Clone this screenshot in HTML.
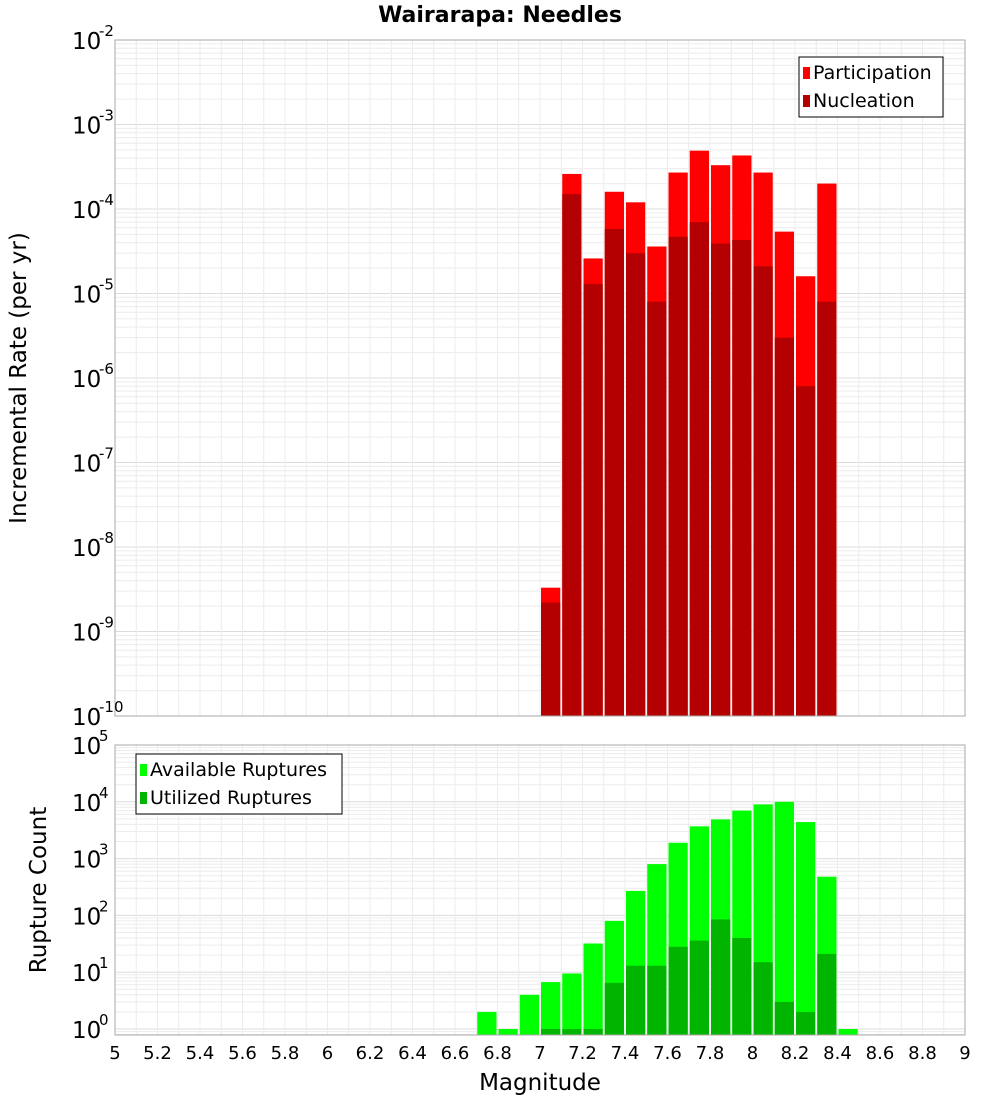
<!DOCTYPE html>
<html><head><meta charset="utf-8"><style>
body{margin:0;background:#fff;font-family:"Liberation Sans","DejaVu Sans",sans-serif}
svg text{font-family:"DejaVu Sans","Liberation Sans",sans-serif}
</style></head><body>
<svg id="c" width="1000" height="1100" viewBox="0 0 1000 1100"></svg>
<script>
const topBins=[7.0,7.1,7.2,7.3,7.4,7.5,7.6,7.7,7.8,7.9,8.0,8.1,8.2,8.3];
const participation=[3.3e-9,2.6e-4,2.6e-5,1.6e-4,1.2e-4,3.6e-5,2.7e-4,4.9e-4,3.3e-4,4.3e-4,2.7e-4,5.4e-5,1.6e-5,2.0e-4];
const nucleation=[2.2e-9,1.5e-4,1.3e-5,5.8e-5,3.0e-5,8e-6,4.7e-5,7e-5,3.9e-5,4.3e-5,2.1e-5,3e-6,8e-7,8e-6];
const botBins=[6.7,6.8,6.9,7.0,7.1,7.2,7.3,7.4,7.5,7.6,7.7,7.8,7.9,8.0,8.1,8.2,8.3,8.4];
const available=[2,1,4,6.7,9.5,32,80,270,800,1900,3700,4900,7000,9000,10000,4400,480,1];
const utilized=[0,0,0,1,1,1,6.5,13,13,28,36,85,40,15,3,2,21,0];
const xTicks=[5,5.2,5.4,5.6,5.8,6,6.2,6.4,6.6,6.8,7,7.2,7.4,7.6,7.8,8,8.2,8.4,8.6,8.8,9];
const topExp=[-10,-9,-8,-7,-6,-5,-4,-3,-2];
const botExp=[0,1,2,3,4,5];

const NS="http://www.w3.org/2000/svg",svg=document.getElementById('c');
function el(t,a,txt){const e=document.createElementNS(NS,t);for(const k in a)e.setAttribute(k,a[k]);if(txt!==undefined)e.textContent=txt;svg.appendChild(e);return e;}
const L=115,R=965;
const xs=m=>L+(m-5)*(R-L)/4;
const yTop=v=>40+(-2-Math.log10(v))*84.5;
const yBot=v=>1029-Math.log10(v)*56.8;
const T={y0:40,y1:716},B={y0:745,y1:1035};

function grid(P,ys,lo,hi){
  for(let e=lo;e<hi;e++)for(let k=1;k<10;k++){const y=ys(k*Math.pow(10,e));if(y<P.y0||y>P.y1)continue;
    const g=el('line',{x1:L,x2:R,y1:y,y2:y,stroke:k==1?'#dcdcdc':'#ececec','stroke-width':1});
    }
  for(let m=5;m<=9.001;m+=0.1){const x=xs(m);const g=el('line',{x1:x,x2:x,y1:P.y0,y2:P.y1,stroke:'#ececec'});
    }
}
grid(T,yTop,-10,-1);grid(B,yBot,-1,6);

function bars(bins,vals,ys,P,color,name){
  bins.forEach((b,i)=>{if(!(vals[i]>0))return;const x=xs(b)+1,w=xs(b+0.1)-xs(b)-2,y=Math.max(P.y0,ys(vals[i]));
    const r=el('rect',{x:x,y:y,width:w,height:P.y1-y,fill:color});
    });
}
bars(topBins,participation,yTop,T,'#ff0000','participation-bar');
bars(topBins,nucleation,yTop,T,'#b40000','nucleation-bar');
bars(botBins,available,yBot,B,'#00ff00','available-bar');
bars(botBins,utilized,yBot,B,'#00b400','utilized-bar');

[T,B].forEach((P,j)=>{const r=el('rect',{x:L,y:P.y0,width:R-L,height:P.y1-P.y0,fill:'none',stroke:'#aaa'});
  });

function ylab(exps,ys,name){exps.forEach(e=>{const y=ys(Math.pow(10,e));
  const t=el('text',{x:72,y:y+9,'font-size':23,fill:'#000'},'10');
  
  const s=el('text',{x:99,y:y-4,'font-size':15,fill:'#000'},String(e));
  });}
ylab(topExp,yTop,'top-y-tick');ylab(botExp,yBot,'bottom-y-tick');

xTicks.forEach(m=>{const t=el('text',{x:xs(m),y:1059,'font-size':18,'text-anchor':'middle'},String(+m.toFixed(1)));
  });

let t=el('text',{x:500,y:22,'font-size':22,'font-weight':'bold','text-anchor':'middle'},'Wairarapa: Needles');

t=el('text',{x:540,y:1090,'font-size':23,'text-anchor':'middle'},'Magnitude');

t=el('text',{x:0,y:0,'font-size':23,'text-anchor':'middle',transform:'translate(26,378) rotate(-90)'},'Incremental Rate (per yr)');

t=el('text',{x:0,y:0,'font-size':23,'text-anchor':'middle',transform:'translate(46,890) rotate(-90)'},'Rupture Count');


function legend(x,y,w,items,name){const r=el('rect',{x:x,y:y,width:w,height:60,fill:'#fff',stroke:'#000'});
  
  items.forEach((it,i)=>{const s=el('rect',{x:x+4,y:y+10+i*28,width:7,height:12,fill:it[1]});
    
    const tt=el('text',{x:x+14,y:y+22+i*28,'font-size':19},it[0]);
    });}
legend(799,57,144,[['Participation','#ff0000'],['Nucleation','#b40000']],'top-legend');
legend(136,754,206,[['Available Ruptures','#00ff00'],['Utilized Ruptures','#00b400']],'bottom-legend');
</script>
</body></html>
